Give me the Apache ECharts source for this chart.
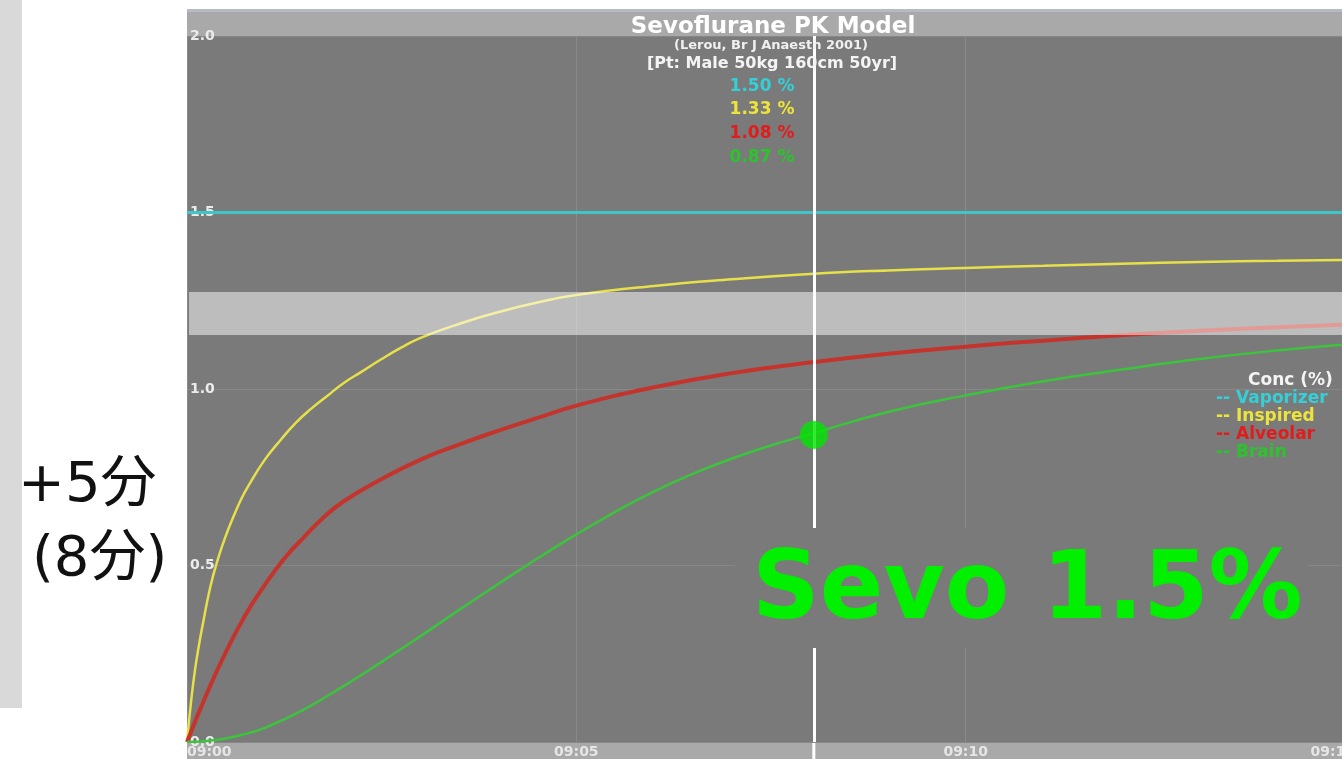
<!DOCTYPE html>
<html>
<head>
<meta charset="utf-8">
<script src="https://cdn.jsdelivr.net/npm/echarts@6/dist/echarts.min.js"></script>
<style>
html,body{margin:0;padding:0;background:#fff;}
#c{width:1342px;height:759px;}
</style>
</head>
<body>
<div id="c"></div>
<script>
// ---- data (minutes after 09:00, concentration %) ----
const xTicks = [0, 5, 10, 15];
const yTicks = [0, 0.5, 1.0, 1.5, 2.0];
const vaporizerT = [0, 15];
const vaporizer = [1.5, 1.5];
const inspiredT = [0, 0.05, 0.1, 0.15, 0.2, 0.3, 0.4, 0.5, 0.6, 0.7, 0.8, 1.0, 1.2, 1.4, 1.6, 1.8, 2.0, 2.25, 2.5, 2.75, 3, 3.5, 4, 4.5, 5, 6, 7, 8, 9, 10, 11, 12, 13, 14, 15];
const inspired = [0, 0.11, 0.2, 0.27, 0.33, 0.44, 0.52, 0.585, 0.64, 0.69, 0.73, 0.80, 0.855, 0.905, 0.945, 0.98, 1.015, 1.05, 1.085, 1.117, 1.145, 1.185, 1.218, 1.245, 1.266, 1.292, 1.311, 1.326, 1.336, 1.343, 1.349, 1.355, 1.36, 1.363, 1.366];
const alveolarT = [0, 0.25, 0.5, 0.75, 1, 1.25, 1.5, 1.75, 2, 2.5, 3, 3.5, 4, 4.5, 5, 6, 7, 8, 9, 10, 11, 12, 13, 14, 15];
const alveolar = [0, 0.135, 0.255, 0.36, 0.445, 0.52, 0.58, 0.635, 0.68, 0.745, 0.8, 0.843, 0.882, 0.918, 0.953, 1.005, 1.045, 1.075, 1.1, 1.12, 1.137, 1.152, 1.165, 1.175, 1.183];
const brainT = [0, 0.25, 0.5, 0.75, 1, 1.5, 2, 2.5, 3, 3.5, 4, 4.5, 5, 5.5, 6, 6.5, 7, 7.5, 8, 9, 10, 11, 12, 13, 14, 15];
const brain = [0, 0.003, 0.01, 0.023, 0.04, 0.092, 0.157, 0.227, 0.3, 0.375, 0.448, 0.52, 0.588, 0.652, 0.71, 0.76, 0.803, 0.84, 0.872, 0.935, 0.982, 1.022, 1.055, 1.085, 1.109, 1.128];
const cursorT = 8.05;
const cursorValues = ['1.50 %', '1.33 %', '1.08 %', '0.87 %'];
const brainAtCursor = 0.87;
const legendLabels = ['-- Vaporizer', '-- Inspired', '-- Alveolar', '-- Brain'];

const seriesColors = ['#3fc6c8', '#e6e04a', '#c4342c', '#3cc43c'];
const textColors = ['#35cfd8', '#ece43a', '#e01c1c', '#2cc42c'];

function pairs(t, v){ return t.map((x,i)=>[x, v[i]]); }
function pad(n){ return (n<10?'0':'')+n; }

const chart = echarts.init(document.getElementById('c'), null, {renderer:'canvas'});
const lineCommon = {type:'line', smooth:0.5, showSymbol:false, z:3};
const base = {
  animation: false,
  backgroundColor: '#ffffff',
  grid: {left:187, top:36, width:1168, height:706, show:true, backgroundColor:'#7a7a7a', borderWidth:0, containLabel:false, outerBoundsMode:'none'},
  xAxis: {
    type:'value', min:xTicks[0], max:xTicks[xTicks.length-1], interval:5,
    axisLine:{show:false}, axisTick:{show:false},
    splitLine:{show:true, lineStyle:{color:'#8a8a8a', width:1}},
    axisLabel:{formatter:v=>'09:'+pad(v), color:'#e6e6e6', fontSize:14, fontWeight:'bold', fontFamily:'DejaVu Sans', margin:3, alignMinLabel:'left', alignMaxLabel:'right', showMaxLabel:true}
  },
  yAxis: {
    type:'value', min:yTicks[0], max:yTicks[yTicks.length-1], interval:0.5,
    axisLine:{show:false}, axisTick:{show:false},
    splitLine:{show:true, lineStyle:{color:'#878787', width:1}},
    axisLabel:{inside:true, formatter:v=>v.toFixed(1), color:'#ececec', fontSize:14, fontWeight:'bold', fontFamily:'DejaVu Sans', margin:3}
  },
  series: [
    {type:'line', name:'Vaporizer', data:pairs(vaporizerT, vaporizer), showSymbol:false, lineStyle:{color:seriesColors[0], width:3}, z:3,
     markLine:{silent:true, symbol:'none', label:{show:false}, lineStyle:{color:'#ffffff', width:3, type:'solid'}, data:[{xAxis:cursorT}]}},
    Object.assign({}, lineCommon, {name:'Inspired', data:pairs(inspiredT, inspired), lineStyle:{color:seriesColors[1], width:2.5}}),
    Object.assign({}, lineCommon, {name:'Alveolar', data:pairs(alveolarT, alveolar), lineStyle:{color:seriesColors[2], width:4}}),
    Object.assign({}, lineCommon, {name:'Brain', data:pairs(brainT, brain), lineStyle:{color:seriesColors[3], width:2.5}}),
    {type:'scatter', name:'cursor', data:[[cursorT, brainAtCursor]], symbolSize:28, itemStyle:{color:'#00e600'}, z:20}
  ]
};
chart.setOption(base);

const cx = chart.convertToPixel({xAxisIndex:0}, cursorT);
const g = [];
// left panel
g.push({type:'rect', z:-1, shape:{x:0, y:0, width:22, height:708}, style:{fill:'#d9d9d9'}});
g.push({type:'text', z:100, x:18, y:486, style:{text:'+5分', font:'56px "DejaVu Sans", "Noto Sans CJK JP"', fill:'#111', align:'left', verticalAlign:'middle'}});
g.push({type:'text', z:100, x:32, y:560, style:{text:'(8分)', font:'56px "DejaVu Sans", "Noto Sans CJK JP"', fill:'#111', align:'left', verticalAlign:'middle'}});
// top bar and bottom band
g.push({type:'rect', z:-1, shape:{x:187, y:9, width:1155, height:27}, style:{fill:'#a9a9a9'}});
g.push({type:'rect', z:-1, shape:{x:187, y:9, width:1155, height:3}, style:{fill:'#b6bac2'}});
g.push({type:'rect', z:-1, shape:{x:187, y:742, width:1155, height:17}, style:{fill:'#a9a9a9'}});
g.push({type:'rect', z:-1, shape:{x:cx-1.5, y:742, width:3, height:17}, style:{fill:'#ffffff'}});
// titles
g.push({type:'text', z:100, x:773, y:27, style:{text:'Sevoflurane PK Model', font:'bold 23px "DejaVu Sans"', fill:'#ffffff', align:'center', verticalAlign:'middle'}});
g.push({type:'text', z:100, x:771, y:46, style:{text:'(Lerou, Br J Anaesth 2001)', font:'bold 13px "DejaVu Sans"', fill:'#f0f0f0', align:'center', verticalAlign:'middle'}});
g.push({type:'text', z:100, x:772, y:64, style:{text:'[Pt: Male 50kg 160cm 50yr]', font:'bold 16px "DejaVu Sans"', fill:'#f4f4f4', align:'center', verticalAlign:'middle'}});
const valY = [87, 110, 134, 158];
cursorValues.forEach((s,i)=>{
  g.push({type:'text', z:100, x:762, y:valY[i], style:{text:s, font:'bold 17px "DejaVu Sans"', fill:textColors[i], align:'center', verticalAlign:'middle'}});
});
// legend
g.push({type:'text', z:100, x:1248, y:381, style:{text:'Conc (%)', font:'bold 17px "DejaVu Sans"', fill:'#f4f4f4', align:'left', verticalAlign:'middle'}});
const legY = [399, 417, 435, 453];
legendLabels.forEach((s,i)=>{
  g.push({type:'text', z:100, x:1216, y:legY[i], style:{text:s, font:'bold 17px "DejaVu Sans"', fill:textColors[i], align:'left', verticalAlign:'middle'}});
});
// translucent overlay band
g.push({type:'rect', z:90, shape:{x:189, y:292, width:1153, height:43}, style:{fill:'rgba(255,255,255,0.5)'}});
// Sevo 1.5% annotation
g.push({type:'rect', z:95, shape:{x:735, y:528, width:573, height:120}, style:{fill:'#7a7a7a'}});
g.push({type:'text', z:100, x:752, y:594, style:{text:'Sevo 1.5%', font:'bold 94px "DejaVu Sans"', fill:'#00f000', align:'left', verticalAlign:'middle'}});

chart.setOption({graphic: g});
</script>
</body>
</html>
